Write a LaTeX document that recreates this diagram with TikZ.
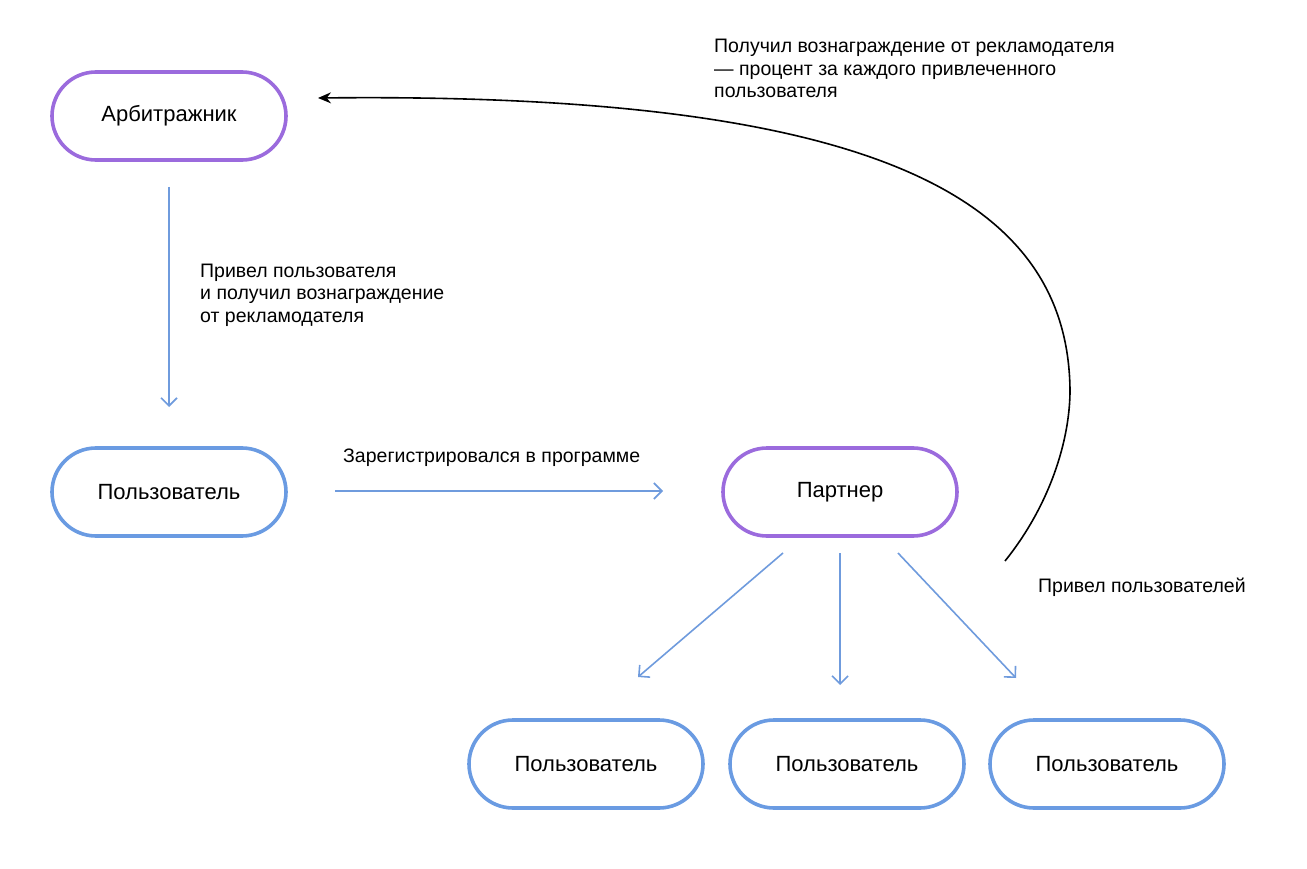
\documentclass[tikz,border=0pt]{standalone}
\usepackage{fontspec}
\setmainfont{Liberation Sans}
\usetikzlibrary{arrows.meta}
\definecolor{purp}{HTML}{9B6BDD}
\definecolor{blu}{HTML}{6A9BE2}
\definecolor{arr}{HTML}{6F9BDD}
\tikzset{
  pill/.style={draw, line width=3.6pt, rounded corners=44pt, minimum width=234pt, minimum height=88pt, inner sep=0pt, font=\fontsize{22}{25}\selectfont},
  ppill/.style={pill, draw=purp},
  bpill/.style={pill, draw=blu},
  barrow/.style={draw=arr, line width=1.6pt, -{Straight Barb[length=8pt,width=16pt,line width=1.6pt]}},
  lbl/.style={align=left, anchor=base west, inner sep=0pt, font=\fontsize{19.5}{22.5}\selectfont},
}
\begin{document}
\begin{tikzpicture}[x=1pt,y=-1pt]
\useasboundingbox (0,0) rectangle (1307,869);
\node[ppill] (arb) at (169,116) {Арбитражник};
\node[bpill] (u0) at (169,492) {Пользователь};
\node[ppill] (par) at (840,492) {Партнер};
\node[bpill] (u1) at (586,764) {Пользователь};
\node[bpill] (u2) at (847,764) {Пользователь};
\node[bpill] (u3) at (1107,764) {Пользователь};

\coordinate (a1s) at (169,187); \coordinate (a1e) at (169,407);
\draw[barrow] (a1s) -- (a1e);
\node[lbl] (l1) at (200,322) {Привел пользователя\\и получил вознаграждение\\от рекламодателя};

\coordinate (a2s) at (335,491); \coordinate (a2e) at (663,491);
\draw[barrow] (a2s) -- (a2e);
\node[lbl] (l2) at (343,462) {Зарегистрировался в программе};

\coordinate (p1) at (783,553); \coordinate (q1) at (638,677);
\coordinate (p2) at (840,553); \coordinate (q2) at (840,685);
\coordinate (p3) at (898,553); \coordinate (q3) at (1016,678);
\draw[barrow] (p1) -- (q1);
\draw[barrow] (p2) -- (q2);
\draw[barrow] (p3) -- (q3);

\coordinate (cs) at (1005,561); \coordinate (cm) at (1070,390); \coordinate (ce) at (318,98);
\draw[line width=1.6pt, -{Stealth[length=13pt,width=11pt]}] (cs) .. controls (1050,505) and (1070,440) .. (cm) .. controls (1068,200) and (880,92) .. (ce);
\node[lbl] (l3) at (1038,592) {Привел пользователей};
\node[lbl] (l4) at (714,98) {Получил вознаграждение от рекламодателя\\— процент за каждого привлеченного\\пользователя};
\end{tikzpicture}
\end{document}
